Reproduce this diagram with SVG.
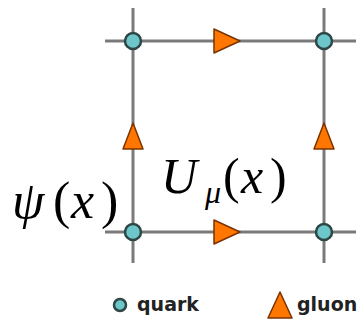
<svg xmlns="http://www.w3.org/2000/svg" width="361" height="324" viewBox="0 0 361 324">
<style>
.ln{stroke:#7a7a7a;stroke-width:3;fill:none}
.q{fill:#6cc6ca;stroke:#2f4646;stroke-width:2.5}
.g{fill:#ff7700;stroke:#7a3300;stroke-width:1.5;stroke-linejoin:round}
.m{font-family:"Liberation Serif","DejaVu Serif",serif;fill:#000}
.i{font-style:italic}
.lg{font-family:"DejaVu Sans","Liberation Sans",sans-serif;font-weight:bold;font-size:19px;fill:#222}
</style>
<rect width="361" height="324" fill="#fff"/>
<g id="connectors">
<line class="ln" x1="105" y1="41" x2="356" y2="41"/>
<line class="ln" x1="105" y1="232" x2="356" y2="232"/>
<line class="ln" x1="133" y1="8" x2="133" y2="263"/>
<line class="ln" x1="324" y1="8" x2="324" y2="263"/>
</g>
<g id="gluon-top"><polygon class="g" points="214,29 240,41 214,53"/></g>
<g id="gluon-bottom"><polygon class="g" points="214,220 240,232 214,244"/></g>
<g id="gluon-left"><polygon class="g" points="133,123 143,149 123,149"/></g>
<g id="gluon-right"><polygon class="g" points="324,123 334,149 314,149"/></g>
<g id="quark-tl"><circle class="q" cx="133" cy="41" r="8"/></g>
<g id="quark-tr"><circle class="q" cx="324" cy="41" r="8"/></g>
<g id="quark-bl"><circle class="q" cx="133" cy="232" r="8"/></g>
<g id="quark-br"><circle class="q" cx="324" cy="232" r="8"/></g>
<g id="label-psi"><text class="m" y="218" font-size="52"><tspan class="i" x="12">ψ</tspan><tspan x="53">(</tspan><tspan class="i" x="71">x</tspan><tspan x="101">)</tspan></text></g>
<g id="label-U"><text class="m" y="193" font-size="50"><tspan class="i" x="161">U</tspan><tspan class="i" x="205" y="203" font-size="32">μ</tspan><tspan x="223" y="193">(</tspan><tspan class="i" x="241">x</tspan><tspan x="270">)</tspan></text></g>
<g id="legend">
<circle class="q" cx="120" cy="305" r="6" stroke-width="2"/>
<text class="lg" x="137" y="311">quark</text>
<polygon class="g" points="280,292 292,318 268,318"/>
<text class="lg" x="297" y="311">gluon</text>
</g>
</svg>
